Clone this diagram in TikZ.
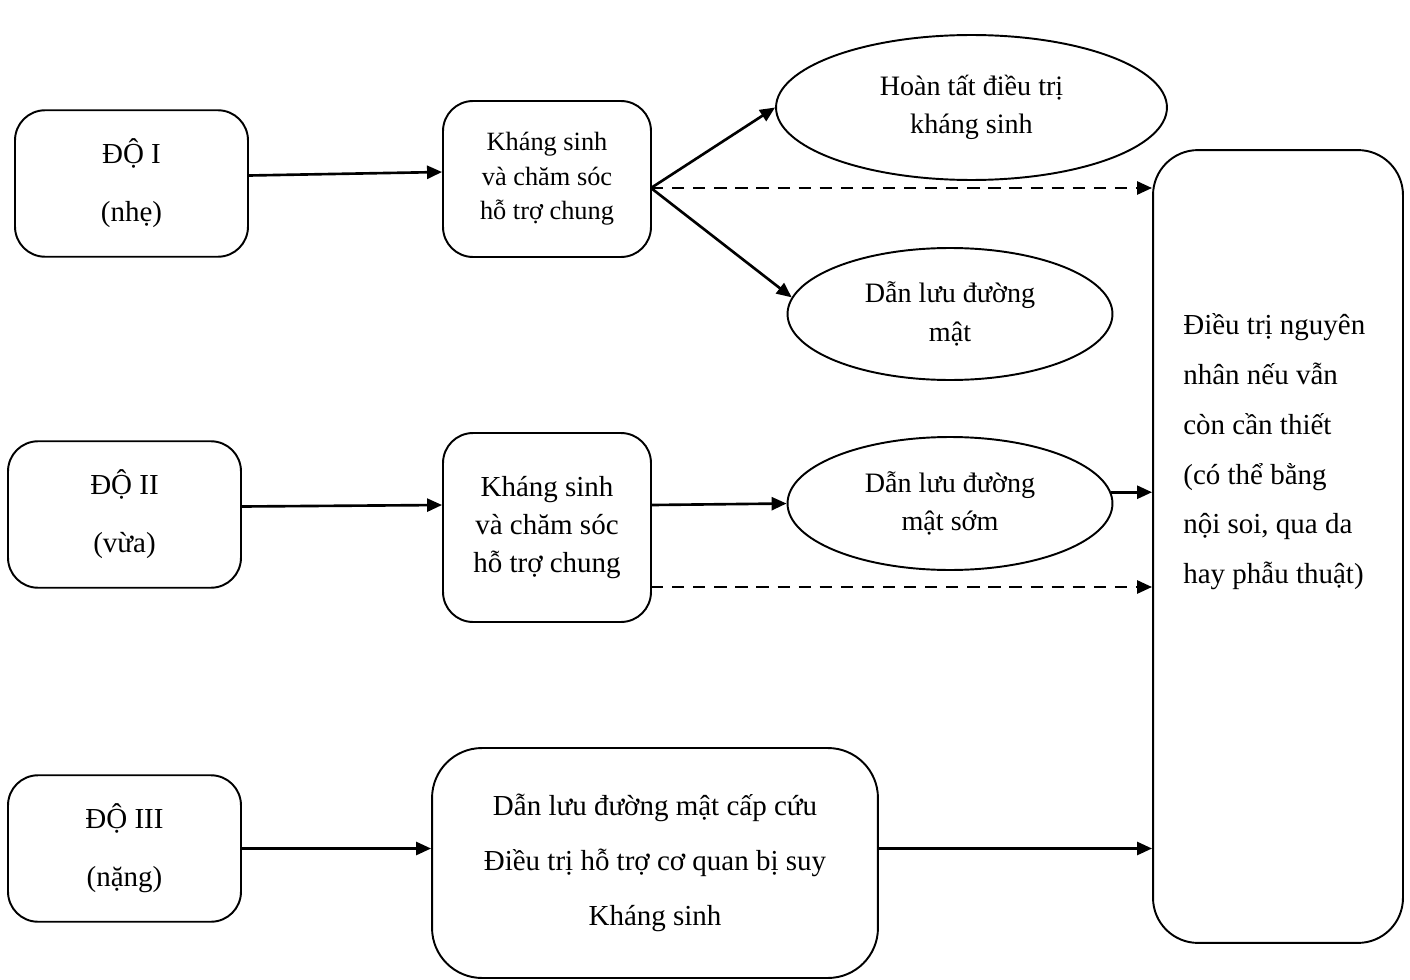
\documentclass[tikz,border=0pt]{standalone}
\usepackage{fontspec}
\setmainfont{Liberation Serif}
\usetikzlibrary{arrows.meta,shapes.geometric}

\tikzset{
  box/.style={draw,line width=1.1pt,rounded corners=0.6cm,align=center},
  oval/.style={draw,ellipse,line width=1.1pt,align=center,inner sep=0pt,font=\fontsize{16}{21.8}\selectfont},
  arr/.style={line width=1.5pt,-{Triangle[length=0.3cm,width=0.26cm]}},
  dasharr/.style={arr,dash pattern=on 7pt off 5pt},
}

\begin{document}
\begin{tikzpicture}[x=0.02cm,y=-0.02cm,line join=round]
\useasboundingbox (0,0) rectangle (1410,980);
% cac muc do
\foreach \i/\x/\y/\lab in {I/131.5/183.5/{ĐỘ I\\(nhẹ)},II/124.5/514.5/{ĐỘ II\\(vừa)},III/124.5/848.5/{ĐỘ III\\(nặng)}}
  \node[box,minimum width=4.66cm,minimum height=2.93cm,font=\fontsize{16.5}{33}\selectfont] (do\i) at (\x,\y) {\lab};
% xu tri
\node[box,minimum width=4.16cm,minimum height=3.12cm,font=\fontsize{15}{19.6}\selectfont] (ks1) at (547,179) {Kháng sinh\\và chăm sóc\\hỗ trợ chung};
\node[box,minimum width=4.16cm,minimum height=3.78cm,font=\fontsize{16.5}{21.5}\selectfont] (ks2) at (547,527.5) {Kháng sinh\\và chăm sóc\\hỗ trợ chung};
\node[box,rounded corners=1cm,minimum width=8.92cm,minimum height=4.6cm,font=\fontsize{16.5}{31.2}\selectfont] (ks3) at (655,863) {Dẫn lưu đường mật cấp cứu\\Điều trị hỗ trợ cơ quan bị suy\\Kháng sinh};
\node[oval,minimum width=7.82cm,minimum height=2.9cm] (e1) at (971.5,107.5) {Hoàn tất điều trị\\kháng sinh};
\node[oval,minimum width=6.5cm,minimum height=2.64cm] (e2) at (950,314) {Dẫn lưu đường\\mật};
\node[oval,minimum width=6.5cm,minimum height=2.66cm] (e3) at (950,503.5) {Dẫn lưu đường\\mật sớm};
% dieu tri nguyen nhan
\node[draw,line width=1.1pt,rounded corners=0.9cm,minimum width=5cm,minimum height=15.86cm] (big) at (1278,546.5) {};
\node[anchor=north west,align=left,inner sep=0pt,font=\fontsize{16.5}{28.4}\selectfont] (bigtxt) at (1183,313) {Điều trị nguyên\\nhân nếu vẫn\\còn cần thiết\\(có thể bằng\\nội soi, qua da\\hay phẫu thuật)};
% mui ten
\coordinate (ks1o) at (651,188);
\coordinate (ks2d) at (651,587);
\draw[arr] ([yshift=0.16cm]doI.east) -- ([yshift=0.14cm]ks1.west);
\draw[arr] (ks1o) -- (e1.west);
\draw[arr] (ks1o) -- (e2.174);
\draw[dasharr] (ks1o) -- (ks1o -| big.west);
\draw[arr] ([yshift=0.16cm]doII.east) -- ([yshift=0.45cm]ks2.west);
\draw[arr] ([yshift=0.45cm]ks2.east) -- (e3.west);
\draw[arr] (e3.4) -- (e3.4 -| big.west);
\draw[dasharr] (ks2d) -- (ks2d -| big.west);
\draw[arr] (doIII.east) -- (doIII.east -| ks3.west);
\draw[arr] (doIII.east -| ks3.east) -- (doIII.east -| big.west);
\end{tikzpicture}
\end{document}
